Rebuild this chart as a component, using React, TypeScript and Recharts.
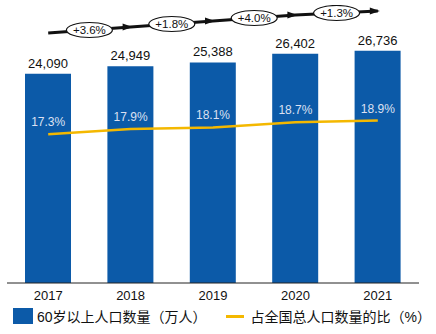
import React from "react";
import {
  ComposedChart,
  Bar,
  Line,
  Scatter,
  XAxis,
  YAxis,
  LabelList,
} from "recharts";

const years = ["2017", "2018", "2019", "2020", "2021"];
const elderly = [24090, 24949, 25388, 26402, 26736];
const ratio = [17.3, 17.9, 18.1, 18.7, 18.9];
const growthLabels = ["+3.6%", "+1.8%", "+4.0%", "+1.3%"];
const arrowLevels = [0, 6, 12, 18, 22];

const barName = "60岁以上人口数量（万人）";
const lineName = "占全国总人口数量的比（%）";

const BLUE = "#0C5AA8";
const YELLOW = "#F4B800";
const FONT = "'Liberation Sans', Arial, 'Noto Sans CJK SC', sans-serif";

const data = years.map((y, i) => ({ year: y, elderly: elderly[i], ratio: ratio[i] }));
const arrowData = arrowLevels.map((v, i) => ({ x: i, y: v }));
const bubbleData = growthLabels.map((label, i) => ({
  x: i + 0.5,
  y: (arrowLevels[i] + arrowLevels[i + 1]) / 2,
  label,
}));

const ArrowDot = (props: any) => {
  const { cx, cy, index } = props;
  if (index === 0 || cx == null) return <g key={`d${index}`} />;
  return (
    <path
      key={`d${index}`}
      d={`M${cx + 2},${cy} L${cx - 8},${cy - 3.5} L${cx - 8},${cy + 3.5} Z`}
      fill="#111"
    />
  );
};

const Bubble = (props: any) => {
  const { cx, cy, payload } = props;
  return (
    <g>
      <ellipse cx={cx} cy={cy} rx={23} ry={7.5} fill="#fff" stroke="#111" strokeWidth={1.2} />
      <text
        x={cx}
        y={cy + 4}
        textAnchor="middle"
        fontSize={11.5}
        fontFamily={FONT}
        fill="#111"
      >
        {payload.label}
      </text>
    </g>
  );
};

export default function App() {
  return (
    <div style={{ position: "absolute", left: 0, top: 0, width: 436, height: 334, background: "#fff", fontFamily: FONT }}>
      <ComposedChart
        width={436}
        height={334}
        data={data}
        margin={{ top: 5, right: 17, bottom: 25, left: 7 }}
      >
        <XAxis
          dataKey="year"
          xAxisId="cat"
          height={26}
          tickLine={false}
          axisLine={{ stroke: "#222", strokeWidth: 1 }}
          tick={{ fill: "#111", fontSize: 13, fontFamily: FONT }}
          interval={0}
        />
        <XAxis xAxisId="num" type="number" dataKey="x" domain={[-0.5, 4.5]} hide allowDataOverflow />
        <YAxis yAxisId="left" domain={[0, 32000]} hide allowDataOverflow />
        <YAxis yAxisId="right" domain={[-0.2, 32.5]} hide allowDataOverflow />
        <YAxis yAxisId="arrow" dataKey="y" type="number" domain={[-250, 28]} hide allowDataOverflow />
        <Bar
          dataKey="elderly"
          xAxisId="cat"
          yAxisId="left"
          fill={BLUE}
          barSize={46}
          isAnimationActive={false}
          name={barName}
        >
          <LabelList
            dataKey="elderly"
            position="top"
            offset={6}
            fill="#111"
            fontSize={13}
            fontFamily={FONT}
            formatter={(v: any) => Number(v).toLocaleString("en-US")}
          />
        </Bar>
        <Line
          dataKey="ratio"
          xAxisId="cat"
          yAxisId="right"
          stroke={YELLOW}
          strokeWidth={2.5}
          dot={false}
          activeDot={false}
          type="linear"
          isAnimationActive={false}
          name={lineName}
        >
          <LabelList
            dataKey="ratio"
            position="top"
            offset={8}
            fill="#DCE0F2"
            fontSize={12}
            fontFamily={FONT}
            formatter={(v: any) => `${Number(v).toFixed(1)}%`}
          />
        </Line>
        <Line
          data={arrowData}
          dataKey="y"
          xAxisId="num"
          yAxisId="arrow"
          stroke="#111"
          strokeWidth={2.8}
          dot={ArrowDot}
          activeDot={false}
          type="linear"
          isAnimationActive={false}
          legendType="none"
        />
        <Scatter
          data={bubbleData}
          dataKey="y"
          xAxisId="num"
          yAxisId="arrow"
          shape={Bubble}
          isAnimationActive={false}
          legendType="none"
        />
      </ComposedChart>
      <div
        style={{
          position: "absolute",
          left: 13,
          top: 306,
          display: "flex",
          alignItems: "center",
          fontSize: 14,
          color: "#111",
          whiteSpace: "nowrap",
          fontFamily: FONT,
        }}
      >
        <span style={{ display: "inline-block", width: 20, height: 16, background: BLUE, marginRight: 4 }} />
        <span>{barName}</span>
        <span style={{ display: "inline-block", width: 18, height: 3, background: YELLOW, marginLeft: 19, marginRight: 7 }} />
        <span>{lineName}</span>
      </div>
    </div>
  );
}
